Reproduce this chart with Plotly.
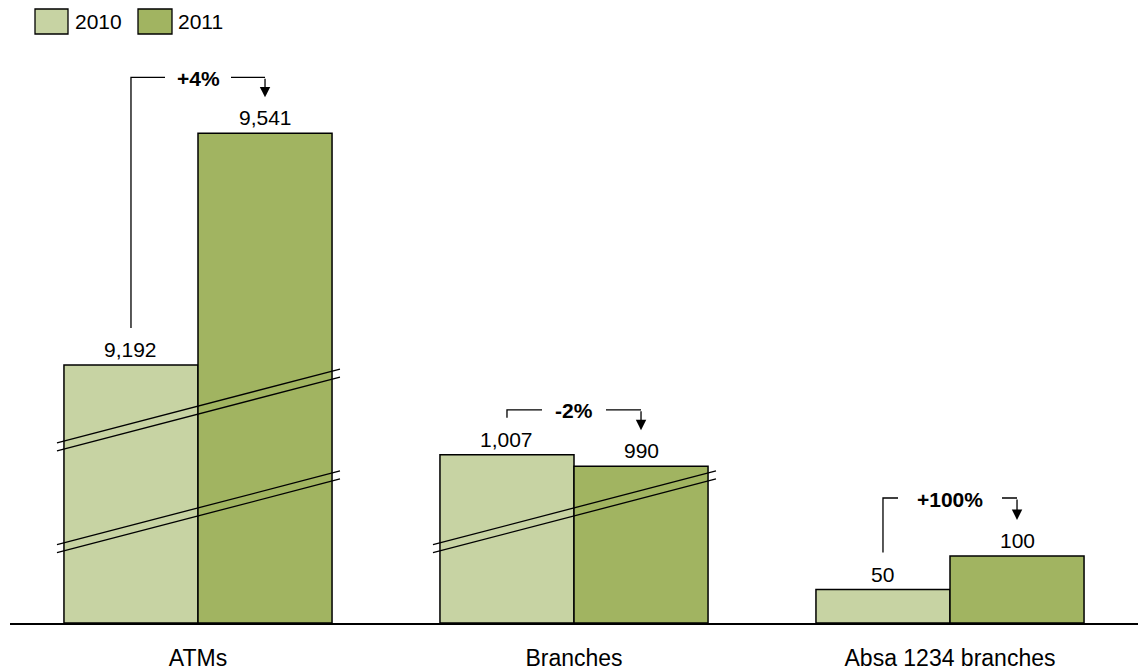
import plotly.graph_objects as go

# ---------------- data ----------------
categories = ["ATMs", "Branches", "Absa 1234 branches"]
series_names = ["2010", "2011"]
values_2010 = [9192, 1007, 50]
values_2011 = [9541, 990, 100]
# heights drawn on the broken value axis (the first two groups use axis breaks)
drawn_2010 = [385, 251, 50]
drawn_2011 = [731, 234, 100]

colors = ["#C7D3A3", "#A1B461"]
FONT = "Liberation Sans, Arial, sans-serif"
FS = 21
FS_CAT = 23

W, H = 1139, 670
M_L, M_R, M_T, M_B = 10, 1, 0, 47
PLOT_W = W - M_L - M_R
PLOT_H = H - M_T - M_B
YMAX = 930
PX = PLOT_H / YMAX  # pixels per y unit
XPX = PLOT_W / 3.0  # pixels per category unit

bargap = 0.287
half = (1 - bargap) / 4  # centre offset of each bar in a group

fig = go.Figure()
for name, drawn, vals, col in [
    (series_names[0], drawn_2010, values_2010, colors[0]),
    (series_names[1], drawn_2011, values_2011, colors[1]),
]:
    fig.add_trace(go.Bar(
        name=name, x=categories, y=drawn, marker=dict(color=col, line=dict(color="#000", width=1.5)),
        customdata=vals, hovertemplate="%{x}<br>" + name + ": %{customdata:,}<extra></extra>",
        showlegend=False,
    ))

annotations = []
shapes = []

# value labels
for i in range(3):
    for drawn, vals, off in [(drawn_2010, values_2010, -1), (drawn_2011, values_2011, 1)]:
        annotations.append(dict(
            x=i + off * half, y=drawn[i], xref="x", yref="y", text=f"{vals[i]:,}",
            showarrow=False, yanchor="bottom", yshift=2,
            font=dict(size=FS, color="#000", family=FONT)))

# change brackets
level_px = [56, 45, 58]
gap_px = [33, 32, 52]
for i in range(3):
    a, b = drawn_2010[i], drawn_2011[i]
    pct = round((values_2011[i] - values_2010[i]) / values_2010[i] * 100)
    txt = f"{pct:+d}%"
    xl, xr = i - half, i + half
    y0 = a + 37 / PX
    lvl = max(a, b) + level_px[i] / PX
    tip = b + 36 / PX
    g = gap_px[i] / XPX
    shapes.append(dict(type="path", xref="x", yref="y",
                       path=f"M {xl},{y0} L {xl},{lvl} L {i - g},{lvl} M {i + g},{lvl} L {xr},{lvl}",
                       line=dict(color="#000", width=1.3)))
    annotations.append(dict(x=xr, y=tip, ax=xr, ay=lvl, xref="x", yref="y", axref="x", ayref="y",
                            text="", showarrow=True, arrowhead=2, arrowsize=1.6, arrowwidth=1.3,
                            arrowcolor="#000", standoff=0))
    annotations.append(dict(x=i, y=lvl, xref="x", yref="y", text=f"<b>{txt}</b>", showarrow=False,
                            yanchor="middle", yshift=-1, font=dict(size=FS, color="#000", family=FONT)))

# axis-break marks (double diagonal lines)
breaks = [(0, 263), (0, 111), (1, 111)]
bx_l, bx_r = -141 / XPX, 142 / XPX
rise = 110
for gi, yl in breaks:
    for d in (-6, 6):
        shapes.append(dict(type="line", xref="x", yref="y",
                           x0=gi + bx_l, y0=yl + d, x1=gi + bx_r, y1=yl + d + rise,
                           line=dict(color="#000", width=1.3)))

# manual legend
def xp(px):
    return (px - M_L) / PLOT_W

def yp(py):
    return (PLOT_H + M_T - py) / PLOT_H

legend_boxes = [(35, 68, 75), (138, 172, 178)]
for (x0, x1, tx), name, col in zip(legend_boxes, series_names, colors):
    shapes.append(dict(type="rect", xref="paper", yref="paper", x0=xp(x0), x1=xp(x1),
                       y0=yp(34), y1=yp(9), fillcolor=col, line=dict(color="#000", width=1.3)))
    annotations.append(dict(x=xp(tx - 2), y=yp(22), xref="paper", yref="paper", text=name,
                            showarrow=False, xanchor="left", yanchor="middle",
                            font=dict(size=FS, color="#000", family=FONT)))

fig.update_layout(
    width=W, height=H, margin=dict(l=M_L, r=M_R, t=M_T, b=M_B, autoexpand=False),
    paper_bgcolor="#fff", plot_bgcolor="#fff",
    barmode="group", bargap=bargap, bargroupgap=0,
    showlegend=False,
    shapes=shapes, annotations=annotations,
    font=dict(family=FONT, size=FS, color="#000"),
    xaxis=dict(range=[-0.5, 2.5], showgrid=False, zeroline=False, showline=True,
               linecolor="#000", linewidth=1.5, ticks="", ticklabelstandoff=14,
               tickfont=dict(size=FS_CAT, color="#000", family=FONT), fixedrange=True),
    yaxis=dict(range=[0, YMAX], visible=False, showgrid=False, zeroline=False, fixedrange=True),
)

fig.write_html("out.html", config={"displayModeBar": False},
               post_script="document.body.style.margin='0';")
